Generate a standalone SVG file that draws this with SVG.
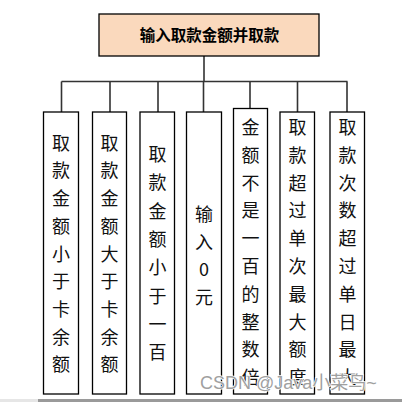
<svg xmlns="http://www.w3.org/2000/svg" width="402" height="402" viewBox="0 0 402 402">
<style>
.box{fill:#fff;stroke:#000;stroke-width:1.3}
.top{fill:#fad9bd;stroke:#000;stroke-width:1.3}
.ln{stroke:#333;stroke-width:1.6;fill:none}
.t{font-family:"Noto Sans CJK SC","Noto Sans CJK JP",sans-serif;font-size:18px;fill:#111;text-anchor:middle;dominant-baseline:central}
.h{font-family:"Noto Sans CJK SC",sans-serif;font-size:15.5px;font-weight:bold;fill:#000;text-anchor:middle;dominant-baseline:central}
.wm{font-family:"Liberation Sans","Noto Sans CJK SC",sans-serif;font-size:18px;fill:#a0a0a0;stroke:#fff;stroke-width:1.5;paint-order:stroke}
</style>
<rect width="402" height="402" fill="#fff"/>
<g id="connectors">
<path class="ln" d="M204 56V81.5M61.5 81.5H347.5M61.5 81.5V112M110 81.5V112M158 81.5V112M203.5 81.5V112M250 81.5V108.5M297.5 81.5V112M347 81.5V112"/>
</g>
<g id="root">
<rect class="top" x="99" y="14" width="220" height="42"/>
<text class="h" x="209.5" y="34">输入取款金额并取款</text>
</g>
<g id="n1">
<rect class="box" x="43.5" y="112" width="35" height="282"/>
<text class="t" x="61" y="141.7">取</text><text class="t" x="61" y="169.4">款</text><text class="t" x="61" y="197.1">金</text><text class="t" x="61" y="224.8">额</text><text class="t" x="61" y="252.5">小</text><text class="t" x="61" y="280.2">于</text><text class="t" x="61" y="307.9">卡</text><text class="t" x="61" y="335.6">余</text><text class="t" x="61" y="363.3">额</text>
</g>
<g id="n2">
<rect class="box" x="92.5" y="112" width="34" height="282"/>
<text class="t" x="109.5" y="141.7">取</text><text class="t" x="109.5" y="169.4">款</text><text class="t" x="109.5" y="197.1">金</text><text class="t" x="109.5" y="224.8">额</text><text class="t" x="109.5" y="252.5">大</text><text class="t" x="109.5" y="280.2">于</text><text class="t" x="109.5" y="307.9">卡</text><text class="t" x="109.5" y="335.6">余</text><text class="t" x="109.5" y="363.3">额</text>
</g>
<g id="n3">
<rect class="box" x="140" y="112" width="34.5" height="282"/>
<text class="t" x="157.5" y="153">取</text><text class="t" x="157.5" y="181.3">款</text><text class="t" x="157.5" y="209.6">金</text><text class="t" x="157.5" y="237.9">额</text><text class="t" x="157.5" y="266.2">小</text><text class="t" x="157.5" y="294.5">于</text><text class="t" x="157.5" y="322.8">一</text><text class="t" x="157.5" y="351.1">百</text>
</g>
<g id="n4">
<rect class="box" x="186.5" y="112" width="35" height="282"/>
<text class="t" x="204" y="213">输</text><text class="t" x="204" y="240.5">入</text><text class="t" x="204" y="268">0</text><text class="t" x="204" y="295.5">元</text>
</g>
<g id="n5">
<rect class="box" x="233.5" y="108.5" width="34" height="285.5"/>
<text class="t" x="250.5" y="126">金</text><text class="t" x="250.5" y="153.8">额</text><text class="t" x="250.5" y="181.6">不</text><text class="t" x="250.5" y="209.4">是</text><text class="t" x="250.5" y="237.2">一</text><text class="t" x="250.5" y="265">百</text><text class="t" x="250.5" y="292.8">的</text><text class="t" x="250.5" y="320.6">整</text><text class="t" x="250.5" y="348.4">数</text><text class="t" x="250.5" y="376.2">倍</text>
</g>
<g id="n6">
<rect class="box" x="280" y="112" width="34.5" height="282"/>
<text class="t" x="297.5" y="126">取</text><text class="t" x="297.5" y="153.8">款</text><text class="t" x="297.5" y="181.6">超</text><text class="t" x="297.5" y="209.4">过</text><text class="t" x="297.5" y="237.2">单</text><text class="t" x="297.5" y="265">次</text><text class="t" x="297.5" y="292.8">最</text><text class="t" x="297.5" y="320.6">大</text><text class="t" x="297.5" y="348.4">额</text><text class="t" x="297.5" y="376.2">度</text>
</g>
<g id="n7">
<rect class="box" x="330" y="112" width="34.5" height="282"/>
<text class="t" x="347.5" y="126">取</text><text class="t" x="347.5" y="153.8">款</text><text class="t" x="347.5" y="181.6">次</text><text class="t" x="347.5" y="209.4">数</text><text class="t" x="347.5" y="237.2">超</text><text class="t" x="347.5" y="265">过</text><text class="t" x="347.5" y="292.8">单</text><text class="t" x="347.5" y="320.6">日</text><text class="t" x="347.5" y="348.4">最</text><text class="t" x="347.5" y="376.2">大</text>
</g>
<text class="wm" x="200" y="389">CSDN @Java小菜鸟~</text>
<rect x="0" y="399" width="38" height="3" fill="#e6e6e6"/>
<rect x="38" y="399" width="364" height="3" fill="#9a9a9a"/>
</svg>
